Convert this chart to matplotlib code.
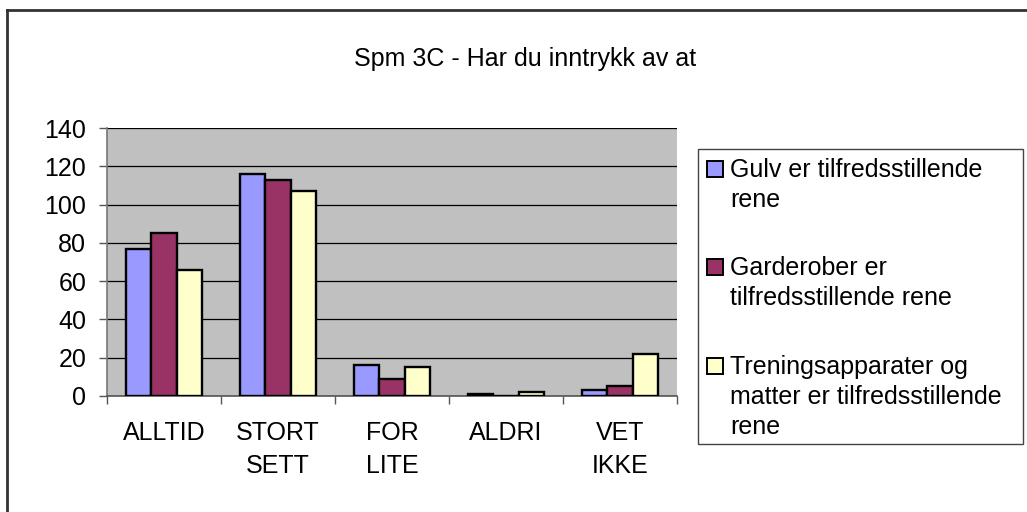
import numpy as np
import matplotlib.pyplot as plt
from matplotlib.patches import Rectangle
from matplotlib.lines import Line2D

plt.rcParams['font.family'] = ['Liberation Sans', 'DejaVu Sans']

categories = ['ALLTID', 'STORT\nSETT', 'FOR\nLITE', 'ALDRI', 'VET\nIKKE']
series_names = ['Gulv er tilfredsstillende\nrene',
                'Garderober er\ntilfredsstillende rene',
                'Treningsapparater og\nmatter er tilfredsstillende\nrene']
gulv = [77, 116, 16, 1, 3]
garderober = [85, 113, 9, 0, 5]
trening = [66, 107, 15, 2, 22]
colors = ['#9999FF', '#993366', '#FFFFCC']
title = 'Spm 3C - Har du inntrykk av at'

fs = 18

fig = plt.figure(figsize=(10.27, 5.12), dpi=100)
ax = fig.add_axes([0.1042, 0.2266, 0.5550, 0.5234])
ax.set_facecolor('#C0C0C0')

x = np.arange(len(categories))
w = 0.222
for i, vals in enumerate([gulv, garderober, trening]):
    ax.bar(x + (i - 1) * w, vals, width=w, color=colors[i],
           edgecolor='black', linewidth=1.7, zorder=3)

ax.set_xlim(-0.5, len(categories) - 0.5)
ax.set_ylim(0, 140)
ax.set_yticks(np.arange(0, 141, 20))
ax.yaxis.grid(True, color='black', linewidth=0.9, zorder=1)
ax.set_axisbelow(True)

ax.set_xticks(x)
ax.set_xticklabels(categories, fontsize=fs, linespacing=1.5)
ax.set_xticks(np.arange(-0.5, len(categories)), minor=True)
ax.tick_params(axis='x', which='major', length=0, pad=18)
ax.tick_params(axis='x', which='minor', length=6, width=1, color='#555555', direction='out')
ax.tick_params(axis='y', length=6, width=1, color='#555555', labelsize=fs, pad=9)

for s in ['top', 'right']:
    ax.spines[s].set_visible(False)
ax.spines['left'].set_color('#777777')
ax.spines['bottom'].set_color('#555555')
ax.spines['left'].set_linewidth(1.2)
ax.spines['bottom'].set_linewidth(1.2)

fig.text(0.511, 0.885, title, ha='center', va='center', fontsize=fs)

# legend box
W, H = 1027.0, 512.0
fig.patches.append(Rectangle((698 / W, 1 - 444 / H), 325 / W, 295 / H,
                             transform=fig.transFigure, facecolor='white',
                             edgecolor='#444444', linewidth=1.0))
entry_tops = [161, 259, 358]
for name, col, ty in zip(series_names, colors, entry_tops):
    fig.patches.append(Rectangle((707 / W, 1 - (ty + 16) / H), 16 / W, 16 / H,
                                 transform=fig.transFigure, facecolor=col,
                                 edgecolor='black', linewidth=1.4))
    fig.text(730 / W, 1 - (ty - 3) / H, name, ha='left', va='top',
             fontsize=fs, linespacing=1.32)

# outer frame of the embedded chart
fig.add_artist(Line2D([7 / W, 7 / W], [0, 1 - 10 / H], transform=fig.transFigure,
                      color='#333333', linewidth=2))
fig.add_artist(Line2D([7 / W, 1], [1 - 10 / H, 1 - 10 / H], transform=fig.transFigure,
                      color='#333333', linewidth=2))

fig.savefig('out.png', dpi=100, facecolor='white')
